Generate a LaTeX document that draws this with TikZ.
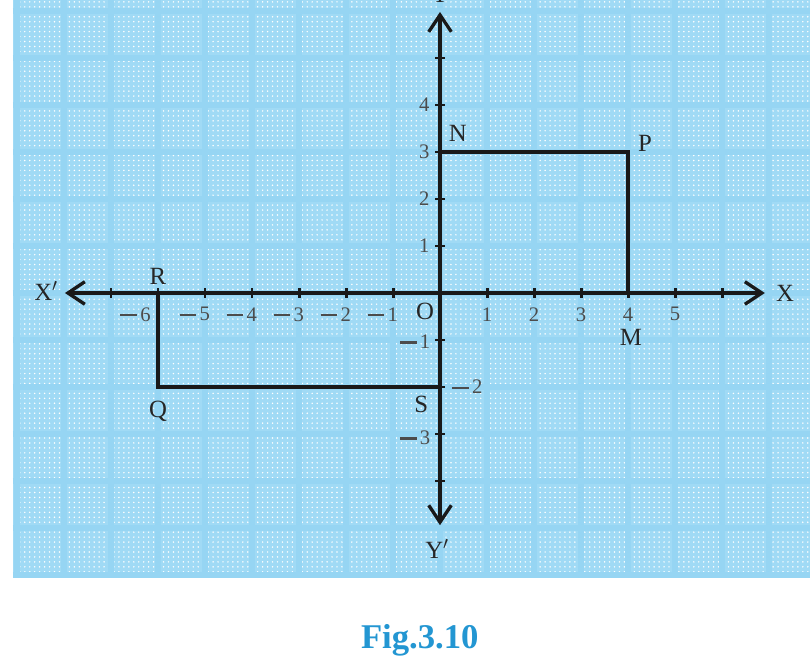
\documentclass[tikz,border=0pt]{standalone}
\usepackage{fontspec}
\setmainfont{Liberation Serif}
\usepackage{xcolor}
\definecolor{paperblue}{RGB}{160,218,245}
\definecolor{bandblue}{RGB}{150,213,243}
\definecolor{figblue}{RGB}{35,150,210}
\usepackage{tikz}
\usetikzlibrary{arrows.meta,patterns}
\newcommand{\negsign}{\rule[0.24em]{0.8em}{0.11em}}

\begin{document}
\begin{tikzpicture}[
      >={Straight Barb[length=3.6mm,width=4.8mm]},
      axis/.style={<->, line width=2pt, color=black!90},
      side/.style={line width=2pt, color=black!90},
      tickmark/.style={line width=1.8pt, color=black!90},
      numlabel/.style={font=\fontsize{12.5}{14}\selectfont, text=black!70, inner sep=0pt},
      ptlabel/.style={font=\fontsize{15}{17}\selectfont, text=black!85, inner sep=0pt},
      caption/.style={font=\bfseries\fontsize{21}{24}\selectfont, text=figblue}
  ]
  \useasboundingbox (-9.362,-7.830) rectangle (7.872,6.234);

  % graph paper
  \fill[paperblue] (-9.09,-6.06) rectangle (7.872,6.234);
  \fill[pattern=dots, pattern color=white] (-9.09,-6.06) rectangle (7.872,6.234);
  \draw[bandblue, line width=3.2pt] (-9.09,-6.06) grid (7.872,6.234);

  \coordinate (Xl) at (-7.98,0);
  \coordinate (Xr) at (6.91,0);
  \coordinate (Yt) at (0,5.98);
  \coordinate (Yb) at (0,-4.94);
  \coordinate (N) at (0,3);
  \coordinate (P) at (4,3);
  \coordinate (M) at (4,0);
  \coordinate (R) at (-6,0);
  \coordinate (Q) at (-6,-2);
  \coordinate (S) at (0,-2);

  \draw[side] (N) -- (P) -- (M);
  \draw[side] (R) -- (Q) -- (S);
  \draw[axis] (Xl) -- (Xr);
  \draw[axis] (Yb) -- (Yt);

  \foreach \x in {-7,...,-1,1,2,...,6}
    \draw[tickmark] (\x,-0.1) -- (\x,0.1);
  \foreach \y in {-4,...,-1,1,2,...,5}
    \draw[tickmark] (-0.1,\y) -- (0.1,\y);

  \node[numlabel, anchor=north east] (xm6) at (-6.15,-0.3) {\negsign\,6};
  \foreach \x/\n in {-5/5,-4/4,-3/3,-2/2,-1/1}
    \node[numlabel, anchor=north east] (xm\n) at (\x+0.11,-0.3) {\negsign\,\n};
  \foreach \x in {1,...,5}
    \node[numlabel, anchor=north] (xp\x) at (\x,-0.3) {\x};
  \foreach \y in {1,...,4}
    \node[numlabel, anchor=east] (yp\y) at (-0.22,\y) {\y};
  \node[numlabel, anchor=east] (ym1) at (-0.2,-1.04) {\negsign\,1};
  \node[numlabel, anchor=west] (ym2) at (0.25,-2) {\negsign\,2};
  \node[numlabel, anchor=east] (ym3) at (-0.2,-3.08) {\negsign\,3};

  \node[ptlabel] (lX) at (7.34,0) {X};
  \node[ptlabel] (lXp) at (-8.38,0.04) {X$'$};
  \node[ptlabel] (lY) at (0,6.36) {Y};
  \node[ptlabel] (lYp) at (-0.06,-5.45) {Y$'$};
  \node[ptlabel] (lO) at (-0.32,-0.39) {O};
  \node[ptlabel] (lN) at (0.38,3.40) {N};
  \node[ptlabel] (lP) at (4.36,3.19) {P};
  \node[ptlabel] (lM) at (4.06,-0.94) {M};
  \node[ptlabel] (lR) at (-6.0,0.36) {R};
  \node[ptlabel] (lQ) at (-6.0,-2.52) {Q};
  \node[ptlabel] (lS) at (-0.40,-2.38) {S};

  \node[caption] (fig) at (-0.43,-7.38) {Fig.3.10};
\end{tikzpicture}
\end{document}
